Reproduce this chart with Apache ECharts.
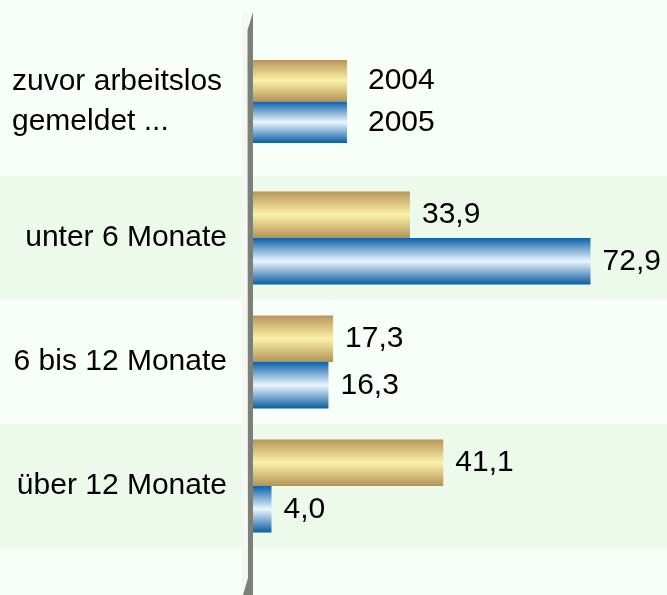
<!DOCTYPE html>
<html>
<head>
<meta charset="utf-8">
<script src="https://cdn.jsdelivr.net/npm/echarts@6/dist/echarts.min.js"></script>
<style>
html,body{margin:0;padding:0;background:#f8fff9;}
#chart{width:667px;height:595px;}
</style>
</head>
<body>
<div id="chart"></div>
<script>
// Data
const keyLabel = ['zuvor arbeitslos\ngemeldet ...'];
const seriesNames = ['2004', '2005'];
const keyValues = [20.3, 20.3];
const categories = ['unter 6 Monate', '6 bis 12 Monate', 'über 12 Monate'];
const values2004 = [33.9, 17.3, 41.1];
const values2005 = [72.9, 16.3, 4.0];

const fmt = v => v.toFixed(1).replace('.', ',');

const gold = {type:'linear',x:0,y:0,x2:0,y2:1,colorStops:[
  {offset:0,color:'#b6965a'},{offset:0.5,color:'#fcf2a9'},{offset:1,color:'#b39355'}]};
const blue = {type:'linear',x:0,y:0,x2:0,y2:1,colorStops:[
  {offset:0,color:'#0d62a8'},{offset:0.5,color:'#ebf5fe'},{offset:1,color:'#0a5da3'}]};

const XMIN = -54.64, XMAX = 89.42;
const font = 'Liberation Sans, Arial, sans-serif';
const txt = '#000';

const chart = echarts.init(document.getElementById('chart'));
chart.setOption({
  backgroundColor: '#f8fff9',
  animation: false,
  grid: [
    {left: 0, right: 0, top: 40, height: 123},
    {left: 0, right: 0, top: 176, height: 372}
  ],
  xAxis: [
    {gridIndex: 0, type: 'value', min: XMIN, max: XMAX, show: false},
    {gridIndex: 1, type: 'value', min: XMIN, max: XMAX, show: false}
  ],
  yAxis: [
    {gridIndex: 0, type: 'category', inverse: true, data: keyLabel,
     axisLine: {show: false}, axisTick: {show: false}, splitLine: {show: false},
     axisLabel: {inside: true, margin: 12, align: 'left', fontSize: 30, lineHeight: 40,
       color: txt, fontFamily: font}},
    {gridIndex: 1, type: 'category', inverse: true, data: categories,
     axisLine: {show: false}, axisTick: {show: false}, splitLine: {show: false},
     splitArea: {show: true, areaStyle: {color: ['#edf9eb', 'rgba(0,0,0,0)']}},
     axisLabel: {inside: true, margin: 227, align: 'right', fontSize: 30,
       color: txt, fontFamily: font}}
  ],
  series: [
    {type: 'bar', name: seriesNames[0], xAxisIndex: 0, yAxisIndex: 0, data: [keyValues[0]],
     barWidth: 41.5, barGap: '0%', itemStyle: {color: gold},
     label: {show: true, position: 'right', distance: 21, fontSize: 30, color: txt,
       fontFamily: font, formatter: seriesNames[0]}},
    {type: 'bar', name: seriesNames[1], xAxisIndex: 0, yAxisIndex: 0, data: [keyValues[1]],
     barWidth: 41.5, barGap: '0%', itemStyle: {color: blue},
     label: {show: true, position: 'right', distance: 21, fontSize: 30, color: txt,
       fontFamily: font, formatter: seriesNames[1]}},
    {type: 'bar', name: seriesNames[0], xAxisIndex: 1, yAxisIndex: 1, data: values2004,
     barWidth: 46.5, barGap: '0%', itemStyle: {color: gold},
     label: {show: true, position: 'right', distance: 12, fontSize: 30, color: txt,
       fontFamily: font, formatter: p => fmt(p.value)}},
    {type: 'bar', name: seriesNames[1], xAxisIndex: 1, yAxisIndex: 1, data: values2005,
     barWidth: 46.5, barGap: '0%', itemStyle: {color: blue},
     label: {show: true, position: 'right', distance: 12, fontSize: 30, color: txt,
       fontFamily: font, formatter: p => fmt(p.value)}}
  ],
  graphic: [
    {type: 'rect', z: 100, shape: {x: 242, y: 12, width: 6, height: 583},
     style: {fill: '#f4f7f2'}},
    {type: 'polygon', z: 101,
     shape: {points: [[247.5, 30], [253, 12], [253, 595], [243, 595], [248, 578]]},
     style: {fill: '#7b8079'}}
  ]
});
</script>
</body>
</html>
